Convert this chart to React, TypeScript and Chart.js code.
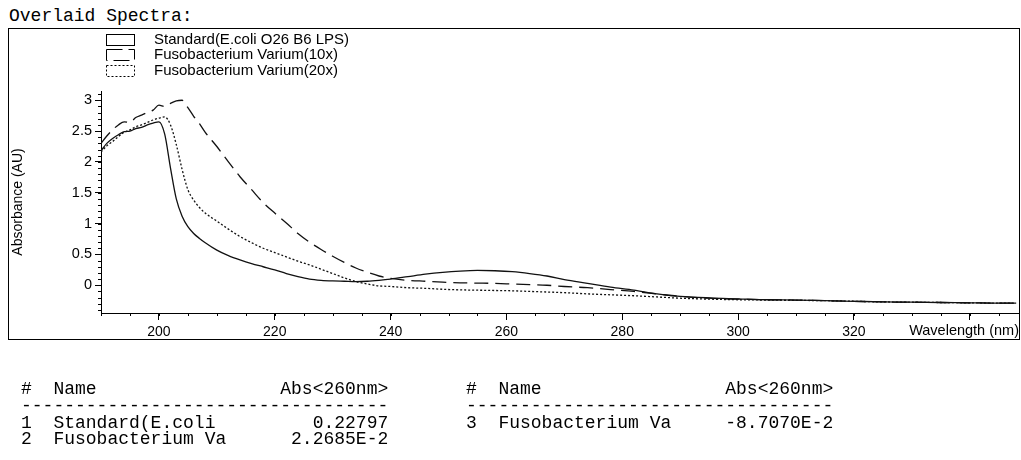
import React, { useEffect, useRef } from "react";
import { Chart, registerables } from "chart.js";

Chart.register(...registerables);

// ---- data ----
const wavelengths = [
  190, 191, 192, 193, 194, 195, 196, 197, 198, 199,
  200, 201, 202, 203, 204, 205, 206, 207, 208, 210,
  212, 214, 216, 218, 220, 222, 224, 226, 228, 230,
  232, 234, 236, 238, 240, 243, 246, 249, 252, 255,
  258, 261, 264, 267, 270, 274, 278, 282, 286, 290,
  295, 300, 305, 310, 315, 320, 325, 330, 335, 340,
  345, 348,
];

const standardAbs = [
  2.18, 2.3, 2.38, 2.44, 2.49, 2.5, 2.54, 2.56, 2.6, 2.63,
  2.65, 2.45, 1.9, 1.4, 1.12, 0.95, 0.84, 0.76, 0.69, 0.57,
  0.48, 0.41, 0.35, 0.3, 0.25, 0.19, 0.14, 0.1, 0.08, 0.07,
  0.065, 0.06, 0.065, 0.08, 0.1, 0.14, 0.18, 0.21, 0.23, 0.24,
  0.235, 0.22, 0.19, 0.15, 0.09, 0.03, -0.03, -0.08, -0.14, -0.18,
  -0.205, -0.22, -0.235, -0.24, -0.25, -0.26, -0.27, -0.275, -0.28, -0.285,
  -0.29, -0.29,
];

const fuso10Abs = [
  2.3, 2.42, 2.52, 2.6, 2.65, 2.64, 2.72, 2.76, 2.8, 2.84,
  2.92, 2.9, 2.95, 2.99, 3.0, 2.88, 2.74, 2.62, 2.48, 2.25,
  2.0, 1.76, 1.55, 1.34, 1.17, 1.01, 0.84, 0.7, 0.58, 0.47,
  0.37, 0.28, 0.21, 0.15, 0.11, 0.08, 0.065, 0.05, 0.04, 0.035,
  0.03, 0.02, 0.01, 0.0, -0.02, -0.04, -0.07, -0.1, -0.14, -0.18,
  -0.21, -0.225, -0.235, -0.24, -0.25, -0.26, -0.27, -0.275, -0.28, -0.285,
  -0.29, -0.29,
];

const fuso20Abs = [
  2.16, 2.26, 2.33, 2.41, 2.48, 2.52, 2.57, 2.6, 2.64, 2.68,
  2.71, 2.73, 2.6, 2.28, 1.88, 1.55, 1.38, 1.26, 1.17, 1.04,
  0.91, 0.79, 0.69, 0.6, 0.53, 0.46, 0.39, 0.33, 0.26, 0.19,
  0.12, 0.06, 0.02, -0.01, -0.02, -0.04, -0.05, -0.065, -0.075, -0.08,
  -0.085, -0.09, -0.1, -0.11, -0.12, -0.14, -0.155, -0.17, -0.19, -0.21,
  -0.225, -0.235, -0.24, -0.245, -0.25, -0.26, -0.27, -0.275, -0.28, -0.285,
  -0.29, -0.29,
];

const seriesLabels = [
  "Standard(E.coli O26 B6 LPS)",
  "Fusobacterium Varium(10x)",
  "Fusobacterium Varium(20x)",
];

const xTickValues = [200, 220, 240, 260, 280, 300, 320, 340];
const xTickLabels = ["200", "220", "240", "260", "280", "300", "320", ""];
const yTickValues = [0, 0.5, 1, 1.5, 2, 2.5, 3];
const yTickLabels = ["0", "0.5", "1", "1.5", "2", "2.5", "3"];

const titleText = "Overlaid Spectra:";
const yAxisTitle = "Absorbance (AU)";
const xAxisTitle = "Wavelength (nm)";

const tableHeader = ["#", "Name", "Abs<260nm>"];
const tableNums = ["1", "2", "3"];
const tableNames = ["Standard(E.coli", "Fusobacterium Va", "Fusobacterium Va"];
const tableValues = ["0.22797", "2.2685E-2", "-8.7070E-2"];

// ---- helpers ----
const FONT = '"Liberation Sans", Arial, sans-serif';
const MONO = '"Liberation Mono", "Courier New", monospace';
const COL_W = 34;

function padLine(left: string, right: string) {
  const n = Math.max(1, COL_W - left.length - right.length);
  return left + " ".repeat(n) + right;
}

const minorTicksPlugin = {
  id: "minorTicks",
  afterDraw(chart: any) {
    const { ctx } = chart;
    const xs = chart.scales.x;
    const ys = chart.scales.y;
    ctx.save();
    ctx.strokeStyle = "#000";
    ctx.lineWidth = 1;
    ctx.beginPath();
    for (let v = 190; v <= 348; v += 5) {
      const px = Math.round(xs.getPixelForValue(v)) + 0.5;
      ctx.moveTo(px, ys.bottom);
      ctx.lineTo(px, ys.bottom + 3);
    }
    for (let k = -4; k <= 31; k++) {
      const v = k / 10;
      const py = Math.round(ys.getPixelForValue(v)) + 0.5;
      ctx.moveTo(xs.left, py);
      ctx.lineTo(xs.left - 3, py);
    }
    ctx.stroke();
    ctx.restore();
  },
};

const boxLegendPlugin = {
  id: "boxLegend",
  afterDraw(chart: any) {
    const { ctx } = chart;
    ctx.save();
    chart.data.datasets.forEach((ds: any, i: number) => {
      const cy = 39.5 + i * 15.5;
      ctx.lineWidth = 1;
      ctx.strokeStyle = "#000";
      ctx.setLineDash(ds.borderDash && ds.borderDash.length ? [ds.borderDash[0] > 5 ? 16 : 2, ds.borderDash[0] > 5 ? 6 : 2] : []);
      ctx.strokeRect(106.5, Math.round(cy - 6) + 0.5, 28, 11);
      ctx.setLineDash([]);
      ctx.fillStyle = "#000";
      ctx.font = `15px ${FONT}`;
      ctx.textBaseline = "middle";
      ctx.textAlign = "left";
      ctx.fillText(ds.label, 154, cy);
    });
    ctx.restore();
  },
};

export default function App() {
  const canvasRef = useRef<HTMLCanvasElement | null>(null);

  useEffect(() => {
    if (!canvasRef.current) return;
    const mk = (vals: number[]) => wavelengths.map((w, i) => ({ x: w, y: vals[i] }));
    const common = {
      borderColor: "#111",
      backgroundColor: "#fff",
      borderWidth: 1.3,
      pointRadius: 0,
      fill: false,
      cubicInterpolationMode: "monotone" as const,
    };
    const chart = new Chart(canvasRef.current, {
      type: "line",
      data: {
        datasets: [
          { ...common, label: seriesLabels[0], data: mk(standardAbs), borderDash: [] },
          { ...common, label: seriesLabels[1], data: mk(fuso10Abs), borderDash: [14, 7] },
          { ...common, label: seriesLabels[2], data: mk(fuso20Abs), borderDash: [2, 2] },
        ],
      },
      options: {
        responsive: false,
        animation: false,
        devicePixelRatio: 1,
        layout: { padding: { left: 0, top: 91, right: 2, bottom: 117 } },
        plugins: {
          legend: { display: false },
          tooltip: { enabled: false },
          title: { display: false },
        },
        scales: {
          x: {
            type: "linear",
            min: 190,
            max: 348.5,
            afterBuildTicks: (s: any) => {
              s.ticks = xTickValues.map((v) => ({ value: v }));
            },
            afterFit: (s: any) => {
              s.height = 30;
            },
            ticks: {
              autoSkip: false,
              maxRotation: 0,
              padding: 4,
              color: "#000",
              font: { family: FONT, size: 14 },
              callback: (v: any) => {
                const i = xTickValues.indexOf(Number(v));
                return i >= 0 ? xTickLabels[i] : "";
              },
            },
            grid: {
              drawOnChartArea: false,
              drawTicks: true,
              tickLength: 7,
              color: "#000",
            },
            border: { display: true, color: "#000", width: 1 },
            title: {
              display: true,
              text: xAxisTitle,
              align: "end",
              color: "#000",
              font: { family: FONT, size: 14.5 },
              padding: { top: 0, bottom: 3 },
            },
          },
          y: {
            type: "linear",
            min: -0.45,
            max: 3.15,
            afterBuildTicks: (s: any) => {
              s.ticks = yTickValues.map((v) => ({ value: v }));
            },
            afterFit: (s: any) => {
              s.width = 101;
            },
            ticks: {
              autoSkip: false,
              padding: 3,
              color: "#000",
              font: { family: FONT, size: 14.5 },
              callback: (v: any) => {
                const i = yTickValues.indexOf(Number(v));
                return i >= 0 ? yTickLabels[i] : "";
              },
            },
            grid: {
              drawOnChartArea: false,
              drawTicks: true,
              tickLength: 6,
              color: "#000",
            },
            border: { display: true, color: "#000", width: 1 },
            title: {
              display: true,
              text: yAxisTitle,
              color: "#000",
              font: { family: FONT, size: 14 },
              padding: { top: 10, bottom: 0 },
            },
          },
        },
      },
      plugins: [minorTicksPlugin, boxLegendPlugin],
    });
    return () => chart.destroy();
  }, []);

  const lineStyle = (top: number, left: number): React.CSSProperties => ({
    position: "absolute",
    top,
    left,
    font: `18px ${MONO}`,
    lineHeight: "18px",
    whiteSpace: "pre",
    color: "#000",
  });

  const leftRows = [0, 1];
  const rightRows = [2];
  const rowTops = [414, 430];

  return (
    <div
      style={{
        position: "absolute",
        left: 0,
        top: 0,
        width: 1021,
        height: 460,
        background: "#fff",
        overflow: "hidden",
      }}
    >
      <div style={lineStyle(7, 9)}>{titleText}</div>
      <div
        style={{
          position: "absolute",
          left: 8,
          top: 28,
          width: 1012,
          height: 312,
          border: "1px solid #000",
          boxSizing: "border-box",
        }}
      />
      <canvas
        ref={canvasRef}
        width={1021}
        height={460}
        style={{ position: "absolute", left: 0, top: 0, width: 1021, height: 460 }}
      />
      {/* table, left block */}
      <div style={lineStyle(380, 21)}>
        {padLine(tableHeader[0] + "  " + tableHeader[1], tableHeader[2])}
      </div>
      <div style={lineStyle(397, 21)}>{"-".repeat(COL_W)}</div>
      {leftRows.map((r, i) => (
        <div key={r} style={lineStyle(rowTops[i], 21)}>
          {padLine(tableNums[r] + "  " + tableNames[r], tableValues[r])}
        </div>
      ))}
      {/* table, right block */}
      <div style={lineStyle(380, 466)}>
        {padLine(tableHeader[0] + "  " + tableHeader[1], tableHeader[2])}
      </div>
      <div style={lineStyle(397, 466)}>{"-".repeat(COL_W)}</div>
      {rightRows.map((r, i) => (
        <div key={r} style={lineStyle(rowTops[i], 466)}>
          {padLine(tableNums[r] + "  " + tableNames[r], tableValues[r])}
        </div>
      ))}
    </div>
  );
}
